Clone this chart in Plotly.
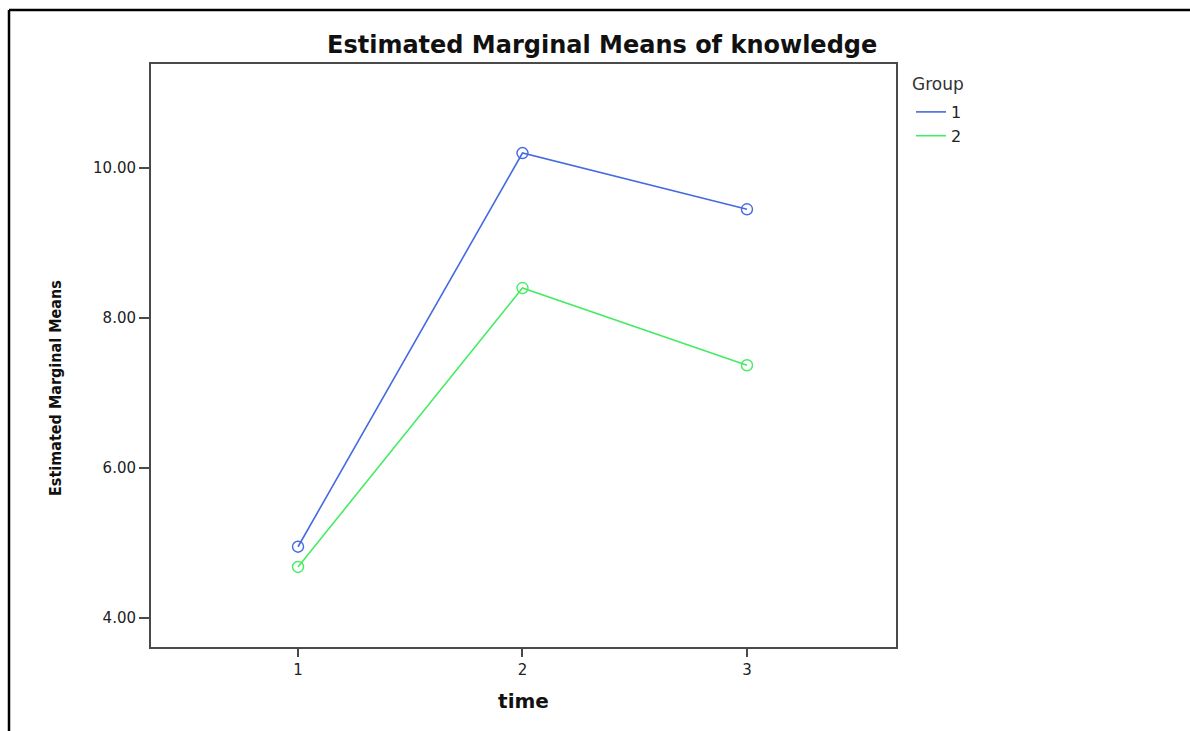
import plotly.graph_objects as go

# Estimated marginal means of knowledge by time and group
time_points = [1, 2, 3]
group1_means = [4.95, 10.20, 9.45]
group2_means = [4.68, 8.40, 7.37]
y_tick_values = [4, 6, 8, 10]
y_tick_labels = ["4.00", "6.00", "8.00", "10.00"]

blue = "rgb(70,105,225)"
green = "rgb(70,235,100)"
axis_color = "#4a4a4a"
wide_font = "DejaVu Sans, Verdana, sans-serif"
narrow_font = "DejaVu Sans Condensed, Liberation Sans Narrow, Liberation Sans, sans-serif"

fig = go.Figure()

for name, vals, col in [("1", group1_means, blue), ("2", group2_means, green)]:
    fig.add_trace(go.Scatter(
        x=time_points, y=vals, mode="lines+markers", name=name,
        line=dict(color=col, width=1.6),
        marker=dict(symbol="circle-open", size=11, color=col, line=dict(width=1.4)),
        showlegend=False,
    ))
    # legend entry shows the line only
    fig.add_trace(go.Scatter(
        x=[None], y=[None], mode="lines", name=name,
        line=dict(color=col, width=1.6),
    ))

fig.update_layout(
    width=1190, height=731,
    margin=dict(l=151, r=294, t=64, b=84),
    paper_bgcolor="white", plot_bgcolor="white",
    font=dict(family=wide_font, color="#222222", size=14),
    title=dict(
        text="<b>Estimated Marginal Means of knowledge</b>",
        x=0.506, xref="container", xanchor="center",
        y=1 - 45 / 731, yref="container", yanchor="middle",
        font=dict(size=24, color="#111111", family=wide_font),
    ),
    legend=dict(
        x=(911 - 151) / 745, xanchor="left", y=(647 - 95) / 583, yanchor="top",
        font=dict(size=16, color="#222222"),
        tracegroupgap=0, itemwidth=30,
        bgcolor="rgba(0,0,0,0)",
    ),
    xaxis=dict(
        range=[0.345, 3.664], tickvals=time_points, ticktext=["1", "2", "3"],
        showgrid=False, zeroline=False,
        showline=True, linecolor=axis_color, linewidth=2, mirror=True,
        ticks="outside", ticklen=8, tickwidth=2, tickcolor=axis_color,
        tickfont=dict(size=15),
        title=dict(text="<b>time</b>", font=dict(size=20, color="#111111"), standoff=16),
    ),
    yaxis=dict(
        range=[3.613, 11.387], tickvals=y_tick_values, ticktext=y_tick_labels,
        showgrid=False, zeroline=False,
        showline=True, linecolor=axis_color, linewidth=2, mirror=True,
        ticks="outside", ticklen=10, tickwidth=2, tickcolor=axis_color,
        tickfont=dict(size=15),
    ),
    annotations=[
        dict(
            text="Group", xref="paper", yref="paper",
            x=(910 - 151) / 745, y=(647 - 84) / 583, xanchor="left", yanchor="middle",
            showarrow=False, font=dict(size=17, color="#333333"),
        ),
        # y-axis title, set slightly below the plot's vertical centre
        dict(
            text="<b>Estimated Marginal Means</b>", xref="paper", yref="paper",
            x=(56 - 151) / 745, y=(647 - 388) / 583, xanchor="center", yanchor="middle",
            textangle=-90, showarrow=False,
            font=dict(size=16, color="#111111", family=narrow_font),
        ),
    ],
)

# outer frame (left and top edges)
fig.add_shape(type="line", xref="paper", yref="paper",
              x0=(9 - 151) / 745, x1=(9 - 151) / 745, y0=(647 - 10) / 583, y1=(647 - 740) / 583,
              line=dict(color="black", width=2.5))
fig.add_shape(type="line", xref="paper", yref="paper",
              x0=(9 - 151) / 745, x1=(1200 - 151) / 745, y0=(647 - 10) / 583, y1=(647 - 10) / 583,
              line=dict(color="black", width=2.5))

fig.write_html("out.html")
